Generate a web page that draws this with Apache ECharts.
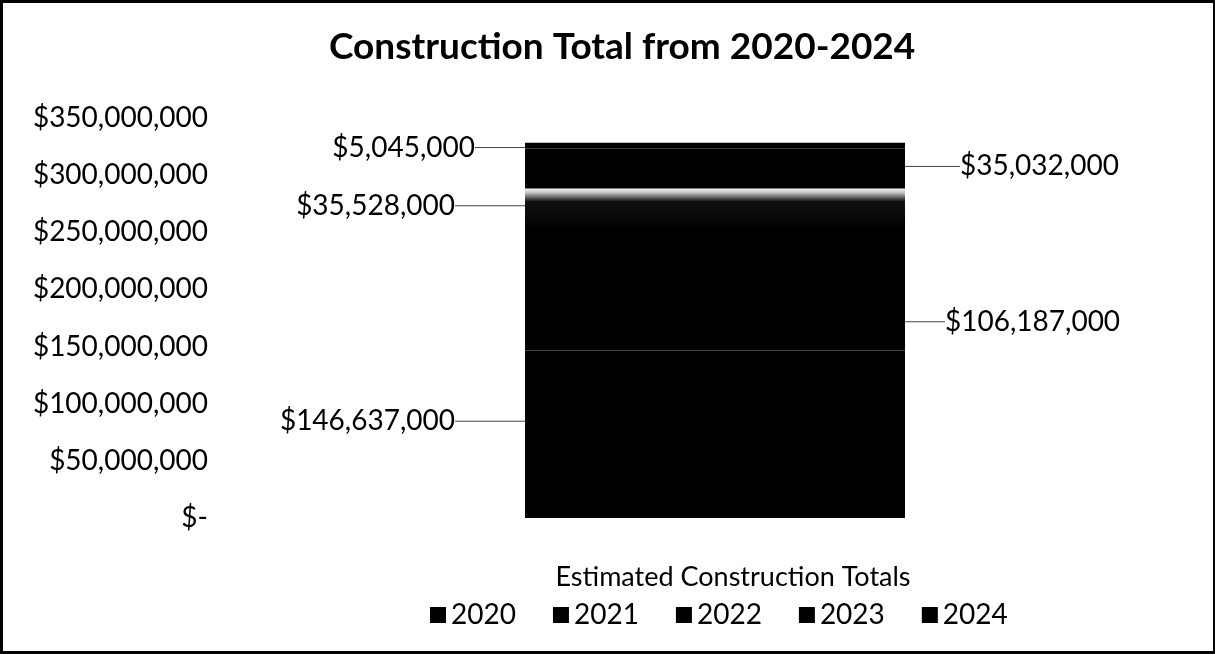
<!DOCTYPE html>
<html><head><meta charset="utf-8">
<script src="https://cdn.jsdelivr.net/npm/echarts@6/dist/echarts.min.js"></script>
<style>
html,body{margin:0;padding:0;background:#fff;}
#frame{position:absolute;left:0;top:0;width:1215px;height:654px;box-sizing:border-box;border:3px solid #000;border-right-width:2px;}
#main{position:absolute;left:0;top:0;width:1215px;height:654px;}
</style></head>
<body><div id="frame"></div><div id="main"></div>
<script>
const categories = ['Estimated Construction Totals'];
const seriesNames = ['2020', '2021', '2022', '2023', '2024'];
const v2020 = [146637000];
const v2021 = [106187000];
const v2022 = [35528000];
const v2023 = [35032000];
const v2024 = [5045000];
const yTicks = [0, 50000000, 100000000, 150000000, 200000000, 250000000, 300000000, 350000000];

const FONT = 'Lato';
const values = [v2020, v2021, v2022, v2023, v2024];
const labelSide = ['left', 'right', 'left', 'right', 'left'];
const labelShift = [[-70, -13], [40, 32], [-70, -3], [55, -2], [-50, 2]];
function money(v){ return '$' + v.toLocaleString('en-US'); }

const gradient = new echarts.graphic.LinearGradient(0, 0, 0, 1, [
  {offset: 0, color: '#f8f8f8'},
  {offset: 0.1, color: '#c4c4c4'},
  {offset: 0.32, color: '#111'},
  {offset: 1, color: '#000'}
]);

const series = seriesNames.map((n, i) => ({
  name: n,
  type: 'bar',
  stack: 'total',
  barWidth: 380,
  data: values[i],
  itemStyle: {color: i === 2 ? gradient : '#000'},
  label: {
    show: true,
    position: labelSide[i],
    distance: 0,
    formatter: p => money(p.value),
    color: '#000', fontFamily: FONT, fontSize: 28
  },
  labelLayout: {dx: labelShift[i][0], dy: labelShift[i][1]},
  labelLine: {show: true, lineStyle: {color: '#444', width: 1}}
}));

const chart = echarts.init(document.getElementById('main'));
chart.setOption({
  animation: false,
  backgroundColor: 'transparent',
  title: {
    text: 'Construction Total from 2020-2024',
    left: 324, top: 24,
    textStyle: {fontFamily: FONT, fontWeight: 'bold', fontSize: 37, color: '#000'}
  },
  legend: {
    top: 596, left: 425,
    itemWidth: 16, itemHeight: 16, itemGap: 37,
    icon: 'rect',
    textStyle: {fontFamily: FONT, fontSize: 28, color: '#000'},
    data: seriesNames.map(n => ({name: n, itemStyle: {color: '#000'}}))
  },
  grid: {left: 225, right: 10, top: 118, bottom: 136},
  xAxis: {
    type: 'category', data: categories,
    axisLine: {show: false}, axisTick: {show: false},
    axisLabel: {margin: 46, fontFamily: FONT, fontSize: 27, color: '#000', padding: [0, 0, 0, 36]}
  },
  yAxis: {
    type: 'value', min: 0, max: 350000000, interval: 50000000,
    splitLine: {show: false}, axisLine: {show: false}, axisTick: {show: false},
    axisLabel: {
      margin: 17, fontFamily: FONT, fontSize: 28, color: '#000',
      formatter: v => v === 0 ? '$-' : money(v)
    }
  },
  series: series
});
</script></body></html>
